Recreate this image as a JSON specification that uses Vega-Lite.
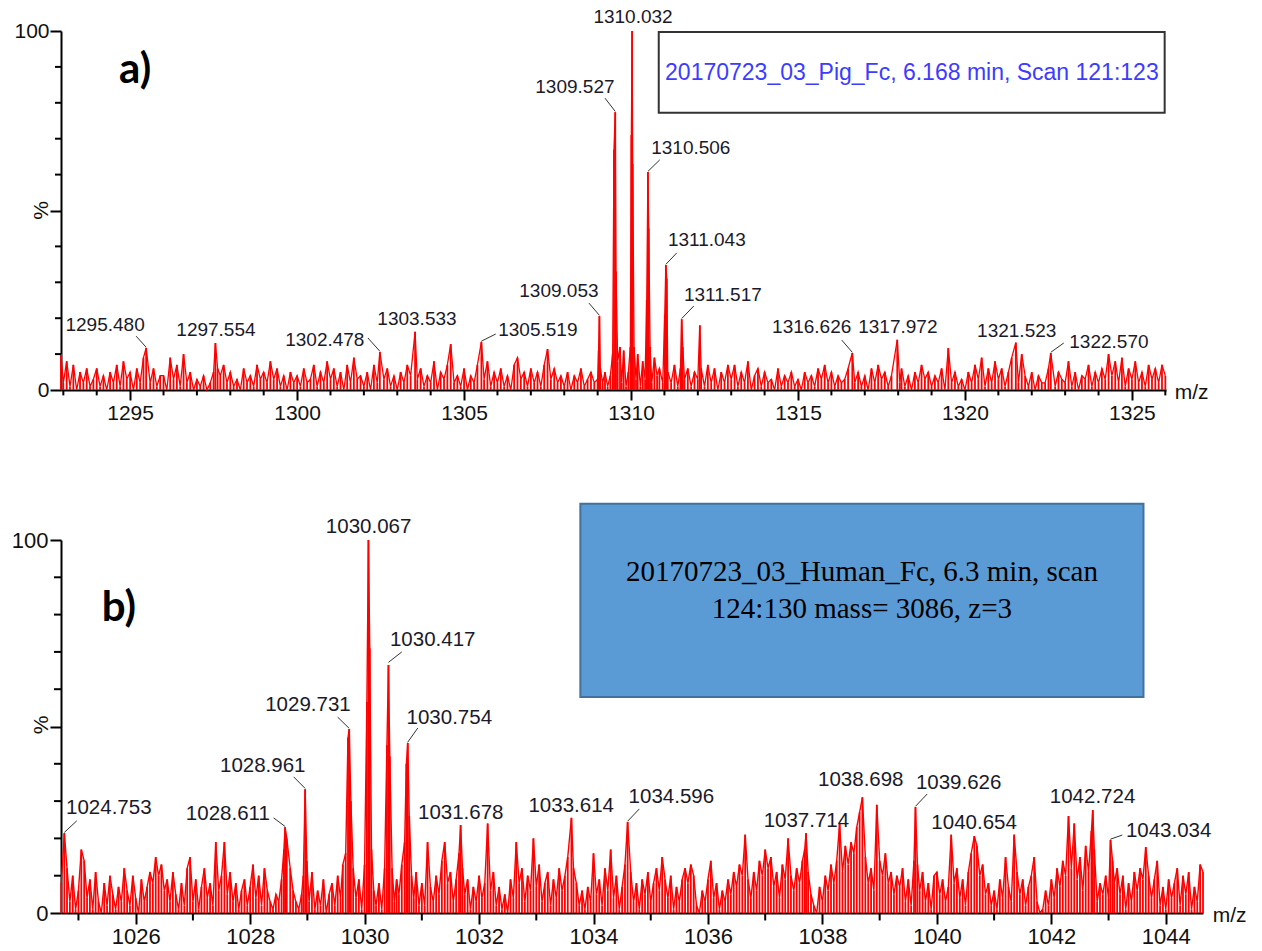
{
"$schema":"https://vega.github.io/schema/vega-lite/v6.json",
"background":"white",
"padding":{"left":11,"top":7,"right":5,"bottom":5},
"spacing":150,
"bounds":"flush",
"config":{"view":{"stroke":null},"font":"Liberation Sans","axis":{"domainColor":"#000","domainWidth":2,"tickColor":"#000","tickWidth":2,"grid":false,"labelColor":"#111","labelFont":"Liberation Sans","labelOverlap":false,"labelFlush":false}},
"datasets":{
"a":[{"x":1292.93,"y":10},{"x":1293.0,"y":2},{"x":1293.1,"y":8},{"x":1293.2,"y":1},{"x":1293.3,"y":7},{"x":1293.4,"y":0},{"x":1293.5,"y":5},{"x":1293.6,"y":2},{"x":1293.7,"y":6},{"x":1293.8,"y":1},{"x":1293.9,"y":3},
{"x":1294.0,"y":6},{"x":1294.1,"y":1},{"x":1294.2,"y":4},{"x":1294.3,"y":0},{"x":1294.4,"y":5},{"x":1294.5,"y":2},{"x":1294.6,"y":7},{"x":1294.7,"y":1},{"x":1294.8,"y":8},{"x":1294.9,"y":3},
{"x":1295.0,"y":5},{"x":1295.1,"y":0},{"x":1295.2,"y":6},{"x":1295.3,"y":2},{"x":1295.4,"y":9},{"x":1295.48,"y":11.7},{"x":1295.6,"y":2},{"x":1295.7,"y":6},{"x":1295.8,"y":1},{"x":1295.9,"y":4},
{"x":1296.0,"y":4},{"x":1296.1,"y":0},{"x":1296.2,"y":9},{"x":1296.3,"y":3},{"x":1296.4,"y":7},{"x":1296.5,"y":1},{"x":1296.6,"y":10},{"x":1296.7,"y":2},{"x":1296.8,"y":5},{"x":1296.9,"y":0},
{"x":1297.0,"y":3},{"x":1297.1,"y":1},{"x":1297.2,"y":4},{"x":1297.3,"y":0},{"x":1297.4,"y":2},{"x":1297.5,"y":5},{"x":1297.554,"y":13.1},{"x":1297.62,"y":6},{"x":1297.7,"y":4},{"x":1297.8,"y":7},{"x":1297.9,"y":2},
{"x":1298.0,"y":5},{"x":1298.1,"y":1},{"x":1298.2,"y":3},{"x":1298.3,"y":0},{"x":1298.4,"y":6},{"x":1298.5,"y":2},{"x":1298.6,"y":4},{"x":1298.7,"y":1},{"x":1298.8,"y":7},{"x":1298.9,"y":3},
{"x":1299.0,"y":5},{"x":1299.1,"y":2},{"x":1299.2,"y":8},{"x":1299.3,"y":3},{"x":1299.4,"y":6},{"x":1299.5,"y":1},{"x":1299.6,"y":4},{"x":1299.7,"y":0},{"x":1299.8,"y":5},{"x":1299.9,"y":2},
{"x":1300.0,"y":4},{"x":1300.1,"y":1},{"x":1300.2,"y":6},{"x":1300.3,"y":2},{"x":1300.4,"y":3},{"x":1300.5,"y":7},{"x":1300.6,"y":1},{"x":1300.7,"y":5},{"x":1300.8,"y":2},{"x":1300.9,"y":8},
{"x":1301.0,"y":3},{"x":1301.1,"y":6},{"x":1301.2,"y":1},{"x":1301.3,"y":5},{"x":1301.4,"y":0},{"x":1301.5,"y":7},{"x":1301.6,"y":2},{"x":1301.7,"y":9},{"x":1301.8,"y":3},{"x":1301.9,"y":4},
{"x":1302.0,"y":1},{"x":1302.1,"y":5},{"x":1302.2,"y":0},{"x":1302.3,"y":7},{"x":1302.4,"y":2},{"x":1302.478,"y":10.6},{"x":1302.6,"y":3},{"x":1302.7,"y":6},{"x":1302.8,"y":1},{"x":1302.9,"y":4},
{"x":1303.0,"y":0},{"x":1303.1,"y":5},{"x":1303.2,"y":2},{"x":1303.3,"y":7},{"x":1303.4,"y":4},{"x":1303.533,"y":16.2},{"x":1303.6,"y":3},{"x":1303.7,"y":6},{"x":1303.8,"y":1},{"x":1303.9,"y":4},
{"x":1304.0,"y":2},{"x":1304.1,"y":8},{"x":1304.2,"y":0},{"x":1304.3,"y":5},{"x":1304.4,"y":3},{"x":1304.5,"y":7},{"x":1304.6,"y":12.8},{"x":1304.7,"y":2},{"x":1304.8,"y":4},{"x":1304.9,"y":1},
{"x":1305.0,"y":6},{"x":1305.1,"y":0},{"x":1305.2,"y":4},{"x":1305.3,"y":2},{"x":1305.4,"y":7},{"x":1305.519,"y":13.4},{"x":1305.6,"y":3},{"x":1305.7,"y":8},{"x":1305.8,"y":1},{"x":1305.9,"y":5},
{"x":1306.0,"y":2},{"x":1306.1,"y":6},{"x":1306.2,"y":1},{"x":1306.3,"y":4},{"x":1306.4,"y":0},{"x":1306.5,"y":7},{"x":1306.6,"y":9},{"x":1306.7,"y":3},{"x":1306.8,"y":5},{"x":1306.9,"y":1},
{"x":1307.0,"y":6},{"x":1307.1,"y":2},{"x":1307.2,"y":5},{"x":1307.3,"y":1},{"x":1307.4,"y":7},{"x":1307.5,"y":11.4},{"x":1307.6,"y":3},{"x":1307.7,"y":6},{"x":1307.8,"y":2},{"x":1307.9,"y":4},
{"x":1308.0,"y":1},{"x":1308.1,"y":5},{"x":1308.2,"y":0},{"x":1308.3,"y":4},{"x":1308.4,"y":2},{"x":1308.5,"y":6},{"x":1308.6,"y":1},{"x":1308.7,"y":3},{"x":1308.8,"y":5},{"x":1308.9,"y":2},
{"x":1309.0,"y":3},{"x":1309.03,"y":11},{"x":1309.053,"y":20.6},{"x":1309.08,"y":6},{"x":1309.15,"y":2},{"x":1309.22,"y":5},{"x":1309.3,"y":1},{"x":1309.38,"y":4},{"x":1309.45,"y":10},{"x":1309.49,"y":67},{"x":1309.527,"y":77.4},{"x":1309.55,"y":33},{"x":1309.6,"y":8},{"x":1309.67,"y":12},{"x":1309.72,"y":2},{"x":1309.78,"y":11},{"x":1309.85,"y":1},{"x":1309.92,"y":5},{"x":1309.98,"y":12},
{"x":1310.01,"y":71},{"x":1310.032,"y":100},{"x":1310.05,"y":63},{"x":1310.09,"y":12},{"x":1310.15,"y":3},{"x":1310.2,"y":10},{"x":1310.28,"y":1},{"x":1310.35,"y":8},{"x":1310.42,"y":3},{"x":1310.47,"y":25},{"x":1310.506,"y":60.7},{"x":1310.53,"y":45},{"x":1310.57,"y":12},{"x":1310.62,"y":2},{"x":1310.7,"y":9},{"x":1310.78,"y":4},{"x":1310.85,"y":6},{"x":1310.95,"y":2},
{"x":1311.01,"y":21},{"x":1311.043,"y":34.8},{"x":1311.07,"y":31},{"x":1311.1,"y":5},{"x":1311.2,"y":2},{"x":1311.3,"y":7},{"x":1311.4,"y":1},{"x":1311.48,"y":6},{"x":1311.517,"y":19.7},{"x":1311.55,"y":12},{"x":1311.6,"y":3},{"x":1311.7,"y":6},{"x":1311.8,"y":1},{"x":1311.9,"y":5},
{"x":1312.0,"y":3},{"x":1312.06,"y":18},{"x":1312.1,"y":6},{"x":1312.2,"y":1},{"x":1312.3,"y":7},{"x":1312.4,"y":2},{"x":1312.5,"y":6},{"x":1312.6,"y":0},{"x":1312.7,"y":5},{"x":1312.8,"y":2},{"x":1312.9,"y":7},
{"x":1313.0,"y":3},{"x":1313.1,"y":7},{"x":1313.2,"y":1},{"x":1313.3,"y":5},{"x":1313.4,"y":2},{"x":1313.5,"y":8},{"x":1313.6,"y":0},{"x":1313.7,"y":4},{"x":1313.8,"y":6},{"x":1313.9,"y":1},
{"x":1314.0,"y":5},{"x":1314.1,"y":2},{"x":1314.2,"y":3},{"x":1314.3,"y":0},{"x":1314.4,"y":6},{"x":1314.5,"y":1},{"x":1314.6,"y":4},{"x":1314.7,"y":2},{"x":1314.8,"y":5},{"x":1314.9,"y":1},
{"x":1315.0,"y":3},{"x":1315.1,"y":0},{"x":1315.2,"y":5},{"x":1315.3,"y":2},{"x":1315.4,"y":4},{"x":1315.5,"y":1},{"x":1315.6,"y":6},{"x":1315.7,"y":3},{"x":1315.8,"y":7},{"x":1315.9,"y":2},
{"x":1316.0,"y":5},{"x":1316.1,"y":1},{"x":1316.2,"y":4},{"x":1316.3,"y":2},{"x":1316.4,"y":3},{"x":1316.5,"y":6},{"x":1316.626,"y":10.3},{"x":1316.7,"y":2},{"x":1316.8,"y":5},{"x":1316.9,"y":1},
{"x":1317.0,"y":4},{"x":1317.1,"y":0},{"x":1317.2,"y":6},{"x":1317.3,"y":2},{"x":1317.4,"y":7},{"x":1317.5,"y":3},{"x":1317.6,"y":5},{"x":1317.7,"y":1},{"x":1317.8,"y":4},{"x":1317.972,"y":14},
{"x":1318.05,"y":2},{"x":1318.1,"y":6},{"x":1318.2,"y":1},{"x":1318.3,"y":4},{"x":1318.4,"y":0},{"x":1318.5,"y":5},{"x":1318.6,"y":2},{"x":1318.7,"y":7},{"x":1318.8,"y":3},{"x":1318.9,"y":5},
{"x":1319.0,"y":1},{"x":1319.1,"y":4},{"x":1319.2,"y":2},{"x":1319.3,"y":6},{"x":1319.4,"y":0},{"x":1319.5,"y":11.7},{"x":1319.6,"y":2},{"x":1319.7,"y":5},{"x":1319.8,"y":1},{"x":1319.9,"y":3},
{"x":1320.0,"y":0},{"x":1320.1,"y":5},{"x":1320.2,"y":2},{"x":1320.3,"y":7},{"x":1320.4,"y":3},{"x":1320.5,"y":9},{"x":1320.6,"y":1},{"x":1320.7,"y":6},{"x":1320.8,"y":2},{"x":1320.9,"y":8},
{"x":1321.0,"y":3},{"x":1321.1,"y":6},{"x":1321.2,"y":1},{"x":1321.3,"y":5},{"x":1321.4,"y":9},{"x":1321.523,"y":13.2},{"x":1321.6,"y":2},{"x":1321.7,"y":10},{"x":1321.8,"y":4},{"x":1321.9,"y":1},
{"x":1322.0,"y":5},{"x":1322.1,"y":0},{"x":1322.2,"y":4},{"x":1322.3,"y":2},{"x":1322.4,"y":2},{"x":1322.5,"y":6},{"x":1322.57,"y":10.3},{"x":1322.7,"y":1},{"x":1322.8,"y":5},{"x":1322.9,"y":3},
{"x":1323.0,"y":2},{"x":1323.1,"y":8},{"x":1323.2,"y":1},{"x":1323.3,"y":5},{"x":1323.4,"y":0},{"x":1323.5,"y":4},{"x":1323.6,"y":3},{"x":1323.7,"y":7},{"x":1323.8,"y":1},{"x":1323.9,"y":5},
{"x":1324.0,"y":2},{"x":1324.1,"y":6},{"x":1324.2,"y":3},{"x":1324.3,"y":10},{"x":1324.4,"y":4},{"x":1324.5,"y":8},{"x":1324.6,"y":2},{"x":1324.7,"y":9},{"x":1324.8,"y":1},{"x":1324.9,"y":6},
{"x":1325.0,"y":3},{"x":1325.1,"y":8},{"x":1325.2,"y":2},{"x":1325.3,"y":5},{"x":1325.4,"y":1},{"x":1325.5,"y":7},{"x":1325.6,"y":3},{"x":1325.7,"y":6},{"x":1325.8,"y":2},{"x":1325.9,"y":7},{"x":1326.0,"y":4}],
"b":[{"x":1024.7,"y":8},{"x":1024.753,"y":21.4},{"x":1024.8,"y":12},{"x":1024.85,"y":3},{"x":1024.9,"y":10},{"x":1024.95,"y":1},
{"x":1025.0,"y":6},{"x":1025.05,"y":17},{"x":1025.1,"y":14},{"x":1025.15,"y":4},{"x":1025.2,"y":9},{"x":1025.25,"y":1},{"x":1025.3,"y":11},{"x":1025.35,"y":3},{"x":1025.4,"y":0},{"x":1025.45,"y":8},{"x":1025.5,"y":2},{"x":1025.55,"y":10},{"x":1025.6,"y":5},{"x":1025.65,"y":1},{"x":1025.7,"y":7},{"x":1025.75,"y":3},{"x":1025.8,"y":12},{"x":1025.85,"y":6},{"x":1025.9,"y":2},{"x":1025.95,"y":10},
{"x":1026.0,"y":4},{"x":1026.05,"y":0},{"x":1026.1,"y":9},{"x":1026.15,"y":3},{"x":1026.2,"y":7},{"x":1026.25,"y":11},{"x":1026.3,"y":8},{"x":1026.35,"y":15},{"x":1026.4,"y":10},{"x":1026.45,"y":13},{"x":1026.5,"y":6},{"x":1026.55,"y":9},{"x":1026.6,"y":3},{"x":1026.65,"y":11},{"x":1026.7,"y":5},{"x":1026.75,"y":1},{"x":1026.8,"y":8},{"x":1026.85,"y":2},{"x":1026.9,"y":12},{"x":1026.95,"y":15},
{"x":1027.0,"y":3},{"x":1027.05,"y":9},{"x":1027.1,"y":1},{"x":1027.15,"y":7},{"x":1027.2,"y":12},{"x":1027.25,"y":4},{"x":1027.3,"y":8},{"x":1027.35,"y":2},{"x":1027.4,"y":19},{"x":1027.45,"y":6},{"x":1027.5,"y":10},{"x":1027.55,"y":19},{"x":1027.6,"y":5},{"x":1027.65,"y":11},{"x":1027.7,"y":3},{"x":1027.75,"y":8},{"x":1027.8,"y":1},{"x":1027.85,"y":6},{"x":1027.9,"y":9},{"x":1027.95,"y":2},
{"x":1028.0,"y":7},{"x":1028.05,"y":13},{"x":1028.1,"y":4},{"x":1028.15,"y":10},{"x":1028.2,"y":2},{"x":1028.25,"y":12},{"x":1028.3,"y":6},{"x":1028.35,"y":3},{"x":1028.4,"y":1},{"x":1028.45,"y":5},{"x":1028.5,"y":3},{"x":1028.55,"y":9},{"x":1028.59,"y":17},{"x":1028.611,"y":23},{"x":1028.64,"y":20},{"x":1028.7,"y":12},{"x":1028.75,"y":6},{"x":1028.8,"y":3},{"x":1028.85,"y":1},{"x":1028.9,"y":5},{"x":1028.93,"y":10},{"x":1028.961,"y":33.2},{"x":1028.99,"y":14},
{"x":1029.03,"y":3},{"x":1029.08,"y":11},{"x":1029.13,"y":1},{"x":1029.18,"y":6},{"x":1029.23,"y":2},{"x":1029.28,"y":9},{"x":1029.33,"y":0},{"x":1029.38,"y":5},{"x":1029.43,"y":8},{"x":1029.48,"y":2},{"x":1029.53,"y":10},{"x":1029.58,"y":4},{"x":1029.62,"y":13},{"x":1029.67,"y":16},{"x":1029.71,"y":47},{"x":1029.731,"y":49.3},{"x":1029.76,"y":30},{"x":1029.8,"y":12},{"x":1029.85,"y":4},{"x":1029.9,"y":9},{"x":1029.95,"y":1},
{"x":1030.0,"y":13},{"x":1030.04,"y":56.6},{"x":1030.067,"y":100},{"x":1030.09,"y":71},{"x":1030.12,"y":17},{"x":1030.16,"y":6},{"x":1030.2,"y":2},{"x":1030.25,"y":8},{"x":1030.3,"y":1},{"x":1030.35,"y":12},{"x":1030.39,"y":45},{"x":1030.417,"y":66.5},{"x":1030.44,"y":42},{"x":1030.48,"y":12},{"x":1030.52,"y":3},{"x":1030.56,"y":9},{"x":1030.6,"y":5},{"x":1030.65,"y":13},{"x":1030.7,"y":19},{"x":1030.73,"y":40},{"x":1030.754,"y":45.6},{"x":1030.78,"y":26},{"x":1030.82,"y":10},{"x":1030.86,"y":4},{"x":1030.9,"y":11},{"x":1030.95,"y":2},
{"x":1031.0,"y":8},{"x":1031.05,"y":2},{"x":1031.1,"y":19},{"x":1031.15,"y":7},{"x":1031.2,"y":3},{"x":1031.25,"y":10},{"x":1031.3,"y":5},{"x":1031.35,"y":14},{"x":1031.4,"y":19},{"x":1031.45,"y":8},{"x":1031.5,"y":11},{"x":1031.55,"y":3},{"x":1031.6,"y":9},{"x":1031.65,"y":16},{"x":1031.678,"y":23.6},{"x":1031.71,"y":12},{"x":1031.75,"y":5},{"x":1031.8,"y":9},{"x":1031.85,"y":1},{"x":1031.9,"y":7},{"x":1031.95,"y":3},
{"x":1032.0,"y":10},{"x":1032.05,"y":4},{"x":1032.1,"y":8},{"x":1032.15,"y":24},{"x":1032.2,"y":6},{"x":1032.25,"y":11},{"x":1032.3,"y":2},{"x":1032.35,"y":7},{"x":1032.4,"y":1},{"x":1032.45,"y":5},{"x":1032.5,"y":0},{"x":1032.55,"y":9},{"x":1032.6,"y":4},{"x":1032.65,"y":19},{"x":1032.7,"y":8},{"x":1032.75,"y":12},{"x":1032.8,"y":3},{"x":1032.85,"y":10},{"x":1032.9,"y":6},{"x":1032.95,"y":20},
{"x":1033.0,"y":7},{"x":1033.05,"y":13},{"x":1033.1,"y":3},{"x":1033.15,"y":8},{"x":1033.2,"y":11},{"x":1033.25,"y":2},{"x":1033.3,"y":9},{"x":1033.35,"y":4},{"x":1033.4,"y":12},{"x":1033.45,"y":6},{"x":1033.5,"y":10},{"x":1033.55,"y":15},{"x":1033.614,"y":25.5},{"x":1033.65,"y":12},{"x":1033.7,"y":8},{"x":1033.75,"y":2},{"x":1033.8,"y":6},{"x":1033.85,"y":1},{"x":1033.9,"y":7},{"x":1033.95,"y":3},
{"x":1034.0,"y":16},{"x":1034.05,"y":5},{"x":1034.1,"y":9},{"x":1034.15,"y":2},{"x":1034.2,"y":12},{"x":1034.25,"y":6},{"x":1034.3,"y":17},{"x":1034.35,"y":4},{"x":1034.4,"y":10},{"x":1034.45,"y":1},{"x":1034.5,"y":7},{"x":1034.55,"y":13},{"x":1034.596,"y":24.4},{"x":1034.65,"y":11},{"x":1034.7,"y":3},{"x":1034.75,"y":8},{"x":1034.8,"y":1},{"x":1034.85,"y":9},{"x":1034.9,"y":5},{"x":1034.95,"y":11},
{"x":1035.0,"y":3},{"x":1035.05,"y":8},{"x":1035.1,"y":12},{"x":1035.15,"y":6},{"x":1035.2,"y":15},{"x":1035.25,"y":9},{"x":1035.3,"y":4},{"x":1035.35,"y":10},{"x":1035.4,"y":1},{"x":1035.45,"y":7},{"x":1035.5,"y":3},{"x":1035.55,"y":9},{"x":1035.6,"y":12},{"x":1035.65,"y":8},{"x":1035.7,"y":13},{"x":1035.75,"y":10},{"x":1035.8,"y":2},{"x":1035.85,"y":0},{"x":1035.9,"y":6},{"x":1035.95,"y":3},
{"x":1036.0,"y":9},{"x":1036.05,"y":14},{"x":1036.1,"y":4},{"x":1036.15,"y":8},{"x":1036.2,"y":1},{"x":1036.25,"y":6},{"x":1036.3,"y":3},{"x":1036.35,"y":9},{"x":1036.4,"y":5},{"x":1036.45,"y":11},{"x":1036.5,"y":7},{"x":1036.55,"y":13},{"x":1036.6,"y":10},{"x":1036.65,"y":21},{"x":1036.7,"y":9},{"x":1036.75,"y":4},{"x":1036.8,"y":11},{"x":1036.85,"y":6},{"x":1036.9,"y":14},{"x":1036.95,"y":10},
{"x":1037.0,"y":17},{"x":1037.05,"y":12},{"x":1037.1,"y":15},{"x":1037.15,"y":7},{"x":1037.2,"y":11},{"x":1037.25,"y":4},{"x":1037.3,"y":13},{"x":1037.35,"y":9},{"x":1037.4,"y":20},{"x":1037.45,"y":10},{"x":1037.5,"y":6},{"x":1037.55,"y":12},{"x":1037.6,"y":8},{"x":1037.65,"y":14},{"x":1037.69,"y":17},{"x":1037.714,"y":21.4},{"x":1037.75,"y":11},{"x":1037.8,"y":5},{"x":1037.85,"y":2},{"x":1037.9,"y":0},{"x":1037.95,"y":7},
{"x":1038.0,"y":3},{"x":1038.05,"y":10},{"x":1038.1,"y":6},{"x":1038.15,"y":13},{"x":1038.2,"y":8},{"x":1038.25,"y":14},{"x":1038.3,"y":24},{"x":1038.35,"y":11},{"x":1038.4,"y":18},{"x":1038.45,"y":13},{"x":1038.5,"y":19},{"x":1038.55,"y":16},{"x":1038.6,"y":23},{"x":1038.65,"y":27},{"x":1038.698,"y":31},{"x":1038.75,"y":15},{"x":1038.8,"y":8},{"x":1038.85,"y":12},{"x":1038.9,"y":6},{"x":1038.95,"y":29},
{"x":1039.0,"y":14},{"x":1039.05,"y":10},{"x":1039.1,"y":16},{"x":1039.15,"y":8},{"x":1039.2,"y":11},{"x":1039.25,"y":5},{"x":1039.3,"y":10},{"x":1039.35,"y":7},{"x":1039.4,"y":12},{"x":1039.45,"y":3},{"x":1039.5,"y":9},{"x":1039.55,"y":2},{"x":1039.6,"y":14},{"x":1039.626,"y":28.4},{"x":1039.66,"y":13},{"x":1039.7,"y":6},{"x":1039.75,"y":11},{"x":1039.8,"y":3},{"x":1039.85,"y":8},{"x":1039.9,"y":1},{"x":1039.95,"y":10},
{"x":1040.0,"y":11},{"x":1040.05,"y":5},{"x":1040.1,"y":9},{"x":1040.15,"y":3},{"x":1040.2,"y":7},{"x":1040.25,"y":21},{"x":1040.3,"y":8},{"x":1040.35,"y":12},{"x":1040.4,"y":4},{"x":1040.45,"y":9},{"x":1040.5,"y":2},{"x":1040.55,"y":11},{"x":1040.6,"y":16},{"x":1040.654,"y":20.6},{"x":1040.7,"y":18},{"x":1040.75,"y":10},{"x":1040.8,"y":13},{"x":1040.85,"y":5},{"x":1040.9,"y":8},{"x":1040.95,"y":2},
{"x":1041.0,"y":6},{"x":1041.05,"y":1},{"x":1041.1,"y":9},{"x":1041.15,"y":4},{"x":1041.2,"y":15},{"x":1041.25,"y":7},{"x":1041.3,"y":3},{"x":1041.35,"y":21},{"x":1041.4,"y":11},{"x":1041.45,"y":5},{"x":1041.5,"y":9},{"x":1041.55,"y":2},{"x":1041.6,"y":7},{"x":1041.65,"y":10},{"x":1041.7,"y":15},{"x":1041.75,"y":3},{"x":1041.8,"y":0},{"x":1041.85,"y":1},{"x":1041.9,"y":6},{"x":1041.95,"y":2},
{"x":1042.0,"y":9},{"x":1042.05,"y":4},{"x":1042.1,"y":12},{"x":1042.15,"y":7},{"x":1042.2,"y":14},{"x":1042.25,"y":10},{"x":1042.3,"y":26},{"x":1042.35,"y":12},{"x":1042.4,"y":24},{"x":1042.45,"y":9},{"x":1042.5,"y":15},{"x":1042.55,"y":6},{"x":1042.6,"y":18},{"x":1042.65,"y":11},{"x":1042.7,"y":22},{"x":1042.724,"y":27.6},{"x":1042.75,"y":17},{"x":1042.8,"y":3},{"x":1042.85,"y":8},{"x":1042.9,"y":5},{"x":1042.95,"y":10},
{"x":1043.0,"y":4},{"x":1043.034,"y":19.6},{"x":1043.07,"y":14},{"x":1043.1,"y":8},{"x":1043.15,"y":12},{"x":1043.2,"y":5},{"x":1043.25,"y":10},{"x":1043.3,"y":1},{"x":1043.35,"y":8},{"x":1043.4,"y":3},{"x":1043.45,"y":11},{"x":1043.5,"y":6},{"x":1043.55,"y":12},{"x":1043.6,"y":9},{"x":1043.65,"y":17.7},{"x":1043.7,"y":10},{"x":1043.75,"y":4},{"x":1043.8,"y":9},{"x":1043.85,"y":14},{"x":1043.9,"y":2},{"x":1043.95,"y":7},
{"x":1044.0,"y":1},{"x":1044.05,"y":9},{"x":1044.1,"y":4},{"x":1044.15,"y":8},{"x":1044.2,"y":12},{"x":1044.25,"y":2},{"x":1044.3,"y":10},{"x":1044.35,"y":5},{"x":1044.4,"y":11},{"x":1044.45,"y":1},{"x":1044.5,"y":7},{"x":1044.55,"y":3},{"x":1044.6,"y":13},{"x":1044.65,"y":11}],
"la":[{"t":"1295.480","tx":1294.25,"ty":18.1,"x1":1295.18,"y1":15.0,"x2":1295.48,"y2":11.9},
{"t":"1297.554","tx":1297.57,"ty":16.7},
{"t":"1302.478","tx":1300.83,"ty":13.9,"x1":1302.12,"y1":14.5,"x2":1302.478,"y2":10.8},
{"t":"1303.533","tx":1303.59,"ty":19.8},
{"t":"1305.519","tx":1307.21,"ty":16.7,"x1":1305.95,"y1":15.6,"x2":1305.519,"y2":13.6},
{"t":"1309.053","tx":1307.84,"ty":27.6,"x1":1308.74,"y1":24.2,"x2":1309.053,"y2":20.8},
{"t":"1309.527","tx":1308.32,"ty":84.4,"x1":1309.22,"y1":81.3,"x2":1309.527,"y2":77.6},
{"t":"1310.032","tx":1310.06,"ty":103.9},
{"t":"1310.506","tx":1311.79,"ty":67.4,"x1":1310.86,"y1":64.1,"x2":1310.506,"y2":60.9},
{"t":"1311.043","tx":1312.27,"ty":41.8,"x1":1311.37,"y1":38.2,"x2":1311.043,"y2":35},
{"t":"1311.517","tx":1312.75,"ty":26.5,"x1":1311.88,"y1":23.4,"x2":1311.517,"y2":19.9},
{"t":"1316.626","tx":1315.41,"ty":17.5,"x1":1316.31,"y1":13.9,"x2":1316.626,"y2":10.5},
{"t":"1317.972","tx":1317.99,"ty":17.5},
{"t":"1321.523","tx":1321.55,"ty":16.4},
{"t":"1322.570","tx":1324.31,"ty":13.4,"x1":1322.96,"y1":13.1,"x2":1322.57,"y2":10.5}],
"lb":[{"t":"1024.753","tx":1025.53,"ty":28.2,"x1":1024.97,"y1":24.7,"x2":1024.753,"y2":21.6},
{"t":"1028.611","tx":1027.61,"ty":26.5,"x1":1028.41,"y1":25.5,"x2":1028.611,"y2":23.2},
{"t":"1028.961","tx":1028.22,"ty":39.4,"x1":1028.76,"y1":36.5,"x2":1028.961,"y2":33.4},
{"t":"1029.731","tx":1029.01,"ty":55.8,"x1":1029.53,"y1":52.5,"x2":1029.731,"y2":49.5},
{"t":"1030.067","tx":1030.07,"ty":103.5},
{"t":"1030.417","tx":1031.19,"ty":73.2,"x1":1030.65,"y1":70,"x2":1030.417,"y2":67.2},
{"t":"1030.754","tx":1031.48,"ty":52.3,"x1":1030.93,"y1":49.6,"x2":1030.754,"y2":45.8},
{"t":"1031.678","tx":1031.68,"ty":26.8},
{"t":"1033.614","tx":1033.61,"ty":28.7},
{"t":"1034.596","tx":1035.36,"ty":31.1,"x1":1034.8,"y1":27.9,"x2":1034.596,"y2":24.6},
{"t":"1037.714","tx":1037.72,"ty":24.7},
{"t":"1038.698","tx":1038.67,"ty":35.7},
{"t":"1039.626","tx":1040.38,"ty":34.9,"x1":1039.83,"y1":31.9,"x2":1039.626,"y2":28.6},
{"t":"1040.654","tx":1040.65,"ty":24.1},
{"t":"1042.724","tx":1042.72,"ty":31.1},
{"t":"1043.034","tx":1044.05,"ty":22,"x1":1043.24,"y1":20.9,"x2":1043.034,"y2":19.8}]
},
"vconcat":[
{"width":1105,"height":359,
"layer":[
{"data":{"name":"a"},"mark":{"type":"line","color":"#ff0000","strokeWidth":1.3},
"encoding":{"x":{"field":"x","type":"quantitative","title":null,"scale":{"domain":[1292.93,1326.02],"nice":false,"zero":false},
"axis":{"title":null,"values":[1295,1300,1305,1310,1315,1320,1325],"format":"d","tickSize":10,"labelFontSize":21,"labelPadding":2,"labelOverlap":false,"labelFlush":false}},
"y":{"field":"y","type":"quantitative","title":null,"scale":{"domain":[0,100],"nice":false},
"axis":{"title":null,"values":[0,50,100],"labelExpr":"datum.value === 50 ? '' : datum.label","tickSize":11,"labelFontSize":21,"labelPadding":1}}}},
{"data":{"name":"a"},"mark":{"type":"rule","color":"#ff0000","strokeWidth":1.8},
"encoding":{"x":{"field":"x","type":"quantitative","title":null},"y":{"field":"y","type":"quantitative","title":null},"y2":{"datum":0}}},
{"data":{"values":[{"v":1293},{"v":1294},{"v":1296},{"v":1297},{"v":1298},{"v":1299},{"v":1301},{"v":1302},{"v":1303},{"v":1304},{"v":1306},{"v":1307},{"v":1308},{"v":1309},{"v":1311},{"v":1312},{"v":1313},{"v":1314},{"v":1316},{"v":1317},{"v":1318},{"v":1319},{"v":1321},{"v":1322},{"v":1323},{"v":1324},{"v":1326}]},"mark":{"type":"rule","color":"#000","strokeWidth":2},
"encoding":{"x":{"field":"v","type":"quantitative","title":null},"y":{"datum":0},"y2":{"datum":-1.5}}},
{"data":{"values":[{"v":10},{"v":20},{"v":30},{"v":40},{"v":60},{"v":70},{"v":80},{"v":90}]},"mark":{"type":"rule","color":"#000","strokeWidth":2},
"encoding":{"y":{"field":"v","type":"quantitative","title":null},"x":{"datum":1292.93},"x2":{"datum":1292.75}}},
{"data":{"name":"la"},"transform":[{"filter":"isValid(datum.x1)"}],"mark":{"type":"rule","color":"#333","strokeWidth":1},
"encoding":{"x":{"field":"x1","type":"quantitative","title":null},"x2":{"field":"x2"},"y":{"field":"y1","type":"quantitative","title":null},"y2":{"field":"y2"}}},
{"data":{"name":"la"},"mark":{"type":"text","fontSize":19,"color":"#1a1a2a","align":"center","baseline":"middle","font":"Liberation Sans"},
"encoding":{"x":{"field":"tx","type":"quantitative","title":null},"y":{"field":"ty","type":"quantitative","title":null},"text":{"field":"t"}}},
{"data":{"values":[{"x1":1310.83,"x2":1325.98,"y1":99.7,"y2":77.2}]},"mark":{"type":"rect","fill":"white","stroke":"#333","strokeWidth":2},
"encoding":{"x":{"field":"x1","type":"quantitative","title":null},"x2":{"field":"x2"},"y":{"field":"y1","type":"quantitative","title":null},"y2":{"field":"y2"}}},
{"data":{"values":[{"x":1318.41,"y":88.3,"t":"20170723_03_Pig_Fc, 6.168 min, Scan 121:123"}]},"mark":{"type":"text","fontSize":23,"color":"#3c3cff","align":"center","baseline":"middle","font":"Liberation Sans"},
"encoding":{"x":{"field":"x","type":"quantitative","title":null},"y":{"field":"y","type":"quantitative","title":null},"text":{"field":"t"}}},
{"data":{"values":[{"x":1295.15,"y":89.1,"t":"a)"}]},"mark":{"type":"text","fontSize":42,"fontWeight":"bold","color":"#000","align":"center","baseline":"middle","font":"Lato"},
"encoding":{"x":{"field":"x","type":"quantitative","title":null},"y":{"field":"y","type":"quantitative","title":null},"text":{"field":"t"}}},
{"data":{"values":[{"x":1326.28,"y":-0.8,"t":"m/z"}]},"mark":{"type":"text","fontSize":21,"color":"#111","baseline":"middle","align":"left","font":"Liberation Sans"},
"encoding":{"x":{"field":"x","type":"quantitative","title":null},"y":{"field":"y","type":"quantitative","title":null},"text":{"field":"t"}}},
{"data":{"values":[{"x":1292.36,"y":50,"t":"%"}]},"mark":{"type":"text","fontSize":21,"color":"#111","baseline":"middle","align":"center","angle":270,"font":"Liberation Sans"},
"encoding":{"x":{"field":"x","type":"quantitative","title":null},"y":{"field":"y","type":"quantitative","title":null},"text":{"field":"t"}}}
]},
{"width":1142,"height":373,
"layer":[
{"data":{"name":"b"},"mark":{"type":"line","color":"#ff0000","strokeWidth":1.4},
"encoding":{"x":{"field":"x","type":"quantitative","title":null,"scale":{"domain":[1024.695,1044.65],"nice":false,"zero":false},
"axis":{"title":null,"values":[1026,1028,1030,1032,1034,1036,1038,1040,1042,1044],"format":"d","tickSize":11,"labelFontSize":22,"labelPadding":2,"labelOverlap":false,"labelFlush":false}},
"y":{"field":"y","type":"quantitative","title":null,"scale":{"domain":[0,100],"nice":false},
"axis":{"title":null,"values":[0,50,100],"labelExpr":"datum.value === 50 ? '' : datum.label","tickSize":11,"labelFontSize":22,"labelPadding":2}}}},
{"data":{"name":"b"},"mark":{"type":"rule","color":"#ff0000","strokeWidth":1.8},
"encoding":{"x":{"field":"x","type":"quantitative","title":null},"y":{"field":"y","type":"quantitative","title":null},"y2":{"datum":0}}},
{"data":{"values":[{"v":1025},{"v":1027},{"v":1029},{"v":1031},{"v":1033},{"v":1035},{"v":1037},{"v":1039},{"v":1041},{"v":1043}]},"mark":{"type":"rule","color":"#000","strokeWidth":2},
"encoding":{"x":{"field":"v","type":"quantitative","title":null},"y":{"datum":0},"y2":{"datum":-2}}},
{"data":{"values":[{"v":10},{"v":20},{"v":30},{"v":40},{"v":60},{"v":70},{"v":80},{"v":90}]},"mark":{"type":"rule","color":"#000","strokeWidth":2},
"encoding":{"y":{"field":"v","type":"quantitative","title":null},"x":{"datum":1024.695},"x2":{"datum":1024.573}}},
{"data":{"name":"lb"},"transform":[{"filter":"isValid(datum.x1)"}],"mark":{"type":"rule","color":"#333","strokeWidth":1},
"encoding":{"x":{"field":"x1","type":"quantitative","title":null},"x2":{"field":"x2"},"y":{"field":"y1","type":"quantitative","title":null},"y2":{"field":"y2"}}},
{"data":{"name":"lb"},"mark":{"type":"text","fontSize":20.5,"color":"#1a1a2a","align":"center","baseline":"middle","font":"Liberation Sans"},
"encoding":{"x":{"field":"tx","type":"quantitative","title":null},"y":{"field":"ty","type":"quantitative","title":null},"text":{"field":"t"}}},
{"data":{"values":[{"x1":1033.77,"x2":1043.61,"y1":109.7,"y2":57.9}]},"mark":{"type":"rect","fill":"#5b9bd5","stroke":"#41719c","strokeWidth":2},
"encoding":{"x":{"field":"x1","type":"quantitative","title":null},"x2":{"field":"x2"},"y":{"field":"y1","type":"quantitative","title":null},"y2":{"field":"y2"}}},
{"data":{"values":[{"x":1038.69,"y":91.4,"t":"20170723_03_Human_Fc, 6.3 min, scan"},{"x":1038.69,"y":81.5,"t":"124:130 mass= 3086, z=3"}]},"mark":{"type":"text","fontSize":29,"color":"#000","align":"center","baseline":"middle","font":"Liberation Serif"},
"encoding":{"x":{"field":"x","type":"quantitative","title":null},"y":{"field":"y","type":"quantitative","title":null},"text":{"field":"t"}}},
{"data":{"values":[{"x":1025.707,"y":81.8,"t":"b)"}]},"mark":{"type":"text","fontSize":42,"fontWeight":"bold","color":"#000","align":"center","baseline":"middle","font":"Lato"},
"encoding":{"x":{"field":"x","type":"quantitative","title":null},"y":{"field":"y","type":"quantitative","title":null},"text":{"field":"t"}}},
{"data":{"values":[{"x":1044.82,"y":-0.8,"t":"m/z"}]},"mark":{"type":"text","fontSize":21,"color":"#111","baseline":"middle","align":"left","font":"Liberation Sans"},
"encoding":{"x":{"field":"x","type":"quantitative","title":null},"y":{"field":"y","type":"quantitative","title":null},"text":{"field":"t"}}},
{"data":{"values":[{"x":1024.363,"y":50.4,"t":"%"}]},"mark":{"type":"text","fontSize":21,"color":"#111","baseline":"middle","align":"center","angle":270,"font":"Liberation Sans"},
"encoding":{"x":{"field":"x","type":"quantitative","title":null},"y":{"field":"y","type":"quantitative","title":null},"text":{"field":"t"}}}
]}
]
}
